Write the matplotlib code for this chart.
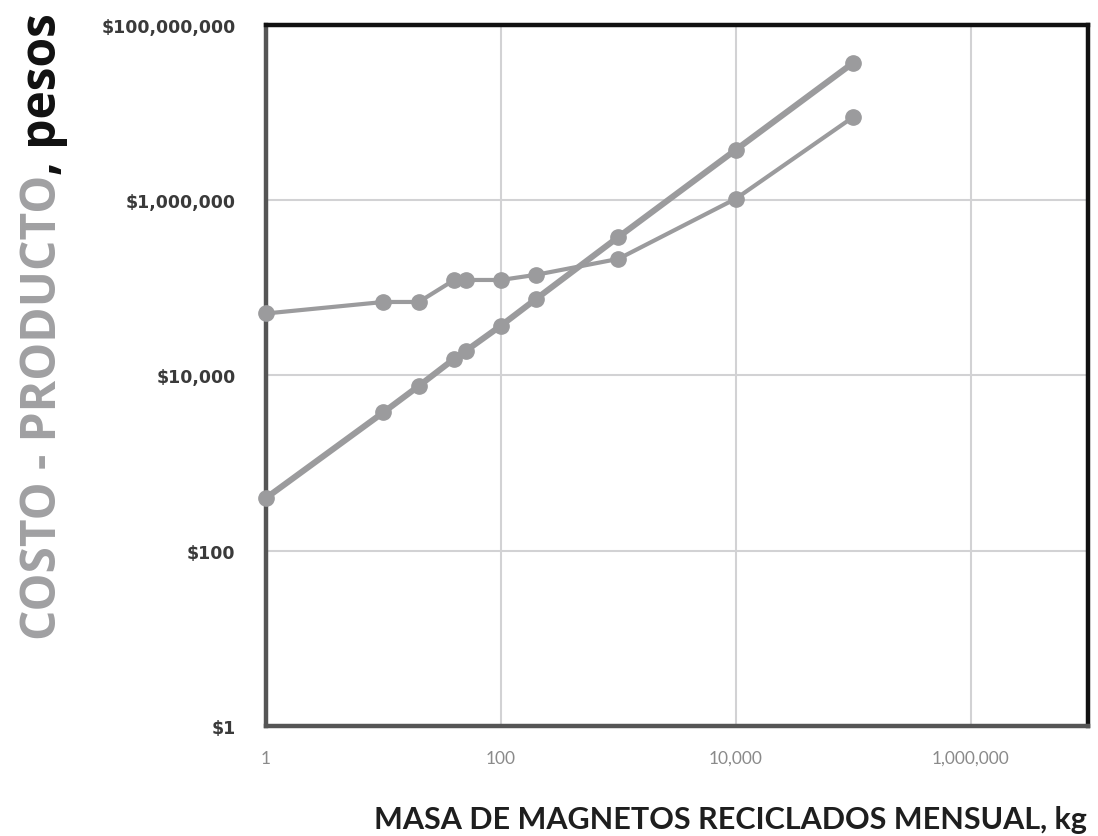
import matplotlib
matplotlib.use('Agg')
import matplotlib.pyplot as plt
from matplotlib.ticker import FuncFormatter, NullLocator

# monthly recycled magnet mass (kg) and cost per product (pesos)
masa_kg = [1, 10, 20, 40, 50, 100, 200, 1000, 10000, 100000]
costo_a = [400, 3800, 7600, 15500, 19000, 37000, 75000, 380000, 3760000, 37000000]
costo_b = [51000, 69000, 69000, 123000, 123000, 123000, 141000, 214000, 1040000, 8900000]

x_ticks = [1, 100, 10000, 1000000]
y_ticks = [1, 100, 10000, 1000000, 100000000]

gris = '#9b9b9d'

fig = plt.figure(figsize=(10.98, 8.37), dpi=100)
ax = fig.add_axes([0.2423, 0.1314, 0.7487, 0.8376])

ax.set_xscale('log')
ax.set_yscale('log')
ax.set_xlim(1, 1e7)
ax.set_ylim(1, 1e8)

ax.plot(masa_kg, costo_a, color=gris, lw=4.4, marker='o', ms=11,
        clip_on=False, zorder=3)
ax.plot(masa_kg, costo_b, color=gris, lw=3.0, marker='o', ms=11,
        clip_on=False, zorder=3)

ax.xaxis.set_minor_locator(NullLocator())
ax.yaxis.set_minor_locator(NullLocator())
ax.set_xticks(x_ticks)
ax.set_yticks(y_ticks)
ax.xaxis.set_major_formatter(FuncFormatter(lambda v, p: f'{v:,.0f}'))
ax.yaxis.set_major_formatter(FuncFormatter(lambda v, p: f'${v:,.0f}'))

ax.grid(True, color='#d2d2d4', lw=1.5, zorder=0)
ax.set_axisbelow(True)
ax.tick_params(length=0)
ax.tick_params(axis='x', pad=17, labelsize=12.5, labelcolor='#8a8a8a')
ax.tick_params(axis='y', pad=22, labelsize=12.5, labelcolor='#3a3a3a')
for lab in ax.get_xticklabels():
    lab.set_family('Lato')
for lab in ax.get_yticklabels():
    lab.set_fontweight('bold')

for side in ['left', 'bottom']:
    ax.spines[side].set_color('#555555')
    ax.spines[side].set_linewidth(3.2)
for side in ['top', 'right']:
    ax.spines[side].set_color('#111111')
    ax.spines[side].set_linewidth(3.2)

fig.text(0.6652, 0.009, 'MASA DE MAGNETOS RECICLADOS MENSUAL, kg',
         ha='center', va='baseline', fontsize=22, color='#1e1e1e',
         family='Lato', fontweight='bold')

# y label in two colours: grey part, then black ", pesos"
x_lab = 0.051
y0 = 0.235
t1 = fig.text(x_lab, y0, 'COSTO - PRODUCTO', rotation=90, rotation_mode='anchor',
              ha='left', va='baseline', fontsize=34.5, fontweight='bold',
              color='#a0a0a2', family='Open Sans')
fig.canvas.draw()
bb = t1.get_window_extent().transformed(fig.transFigure.inverted())
fig.text(x_lab, y0 + bb.height, ', pesos', rotation=90, rotation_mode='anchor',
         ha='left', va='baseline', fontsize=34.5, fontweight='bold',
         color='#111111', family='Open Sans')

fig.savefig('out.png', dpi=100)
